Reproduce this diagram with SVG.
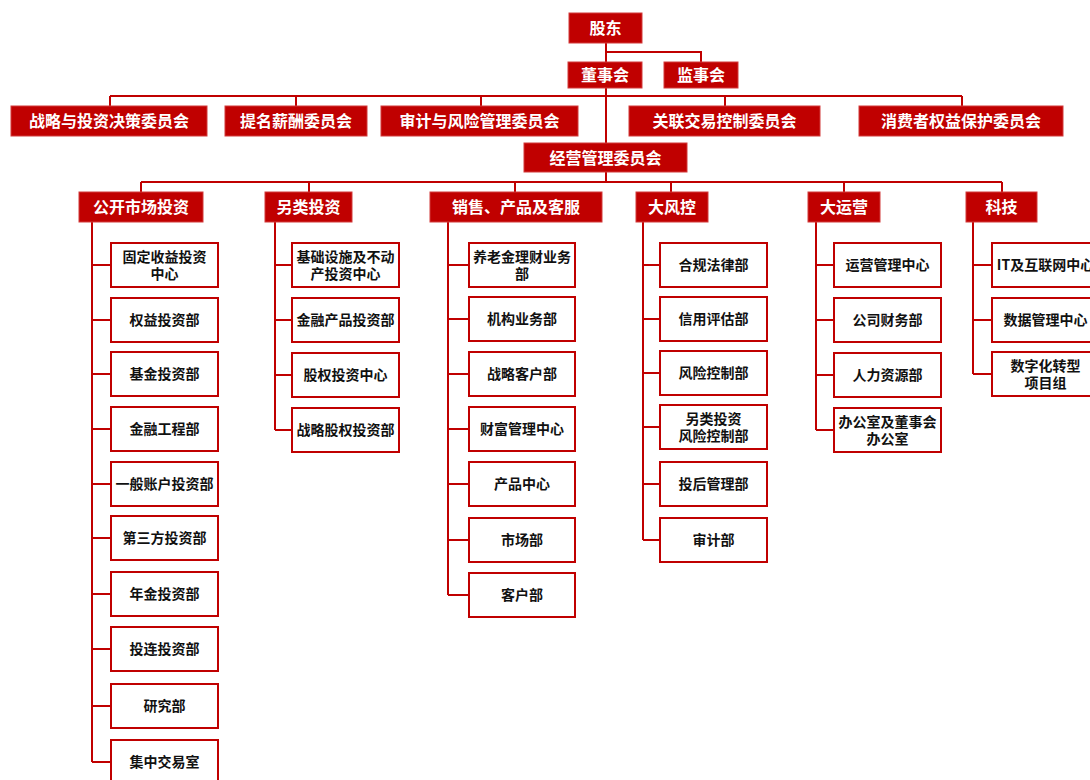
<svg xmlns="http://www.w3.org/2000/svg" width="1090" height="780" viewBox="0 0 1090 780">
<style>
.h rect{fill:#C00000;stroke:#D23A3A;stroke-width:1}
.h text{fill:#fff;font-family:"Noto Sans CJK SC","Liberation Sans",sans-serif;font-weight:700;font-size:16px;text-anchor:middle}
.c rect{fill:#fff;stroke:#C00000;stroke-width:2}
.c text{fill:#111;font-family:"Noto Sans CJK SC","Liberation Sans",sans-serif;font-weight:700;font-size:14px;text-anchor:middle}
#connectors path{fill:none;stroke:#C00000;stroke-width:2}
</style>
<rect width="1090" height="780" fill="#fff"/>
<g id="connectors">
<path d="M606 43V143M606 52H701V62"/>
<path d="M110 96H962M110 96V106M296 96V106M481 96V106M725 96V106M962 96V106"/>
<path d="M606 172V182M141 182H1002M141 182V192M309 182V192M515 182V192M671 182V192M844 182V192M1002 182V192"/>
<path d="M92 222V762M92 265H111M92 320H111M92 374H111M92 429H111M92 484H111M92 538H111M92 594H111M92 649H111M92 706H111M92 762H111"/>
<path d="M275 222V430M275 265H292M275 320H292M275 375H292M275 430H292"/>
<path d="M448 222V595M448 265H469M448 319H469M448 374H469M448 429H469M448 484H469M448 540H469M448 595H469"/>
<path d="M643 222V540M643 265H660M643 319H660M643 373H660M643 427H660M643 484H660M643 540H660"/>
<path d="M816 222V430M816 265H834M816 320H834M816 375H834M816 430H834"/>
<path d="M973 222V374M973 265H992M973 320H992M973 374H992"/>
</g>
<g id="n-gudong" class="h"><rect x="569" y="13" width="73" height="30"/><text x="605.5" y="34">股东</text></g>
<g id="n-dongshihui" class="h"><rect x="568" y="62" width="74" height="26"/><text x="605" y="81">董事会</text></g>
<g id="n-jianshihui" class="h"><rect x="664" y="62" width="74" height="26"/><text x="701" y="81">监事会</text></g>
<g id="n-zhanlue" class="h"><rect x="11" y="106" width="196" height="30"/><text x="109" y="127">战略与投资决策委员会</text></g>
<g id="n-timing" class="h"><rect x="225" y="106" width="142" height="30"/><text x="296" y="127">提名薪酬委员会</text></g>
<g id="n-shenji" class="h"><rect x="381" y="106" width="197" height="30"/><text x="479.5" y="127">审计与风险管理委员会</text></g>
<g id="n-guanlian" class="h"><rect x="629" y="106" width="191" height="30"/><text x="724.5" y="127">关联交易控制委员会</text></g>
<g id="n-xiaofei" class="h"><rect x="859" y="106" width="204" height="30"/><text x="961" y="127">消费者权益保护委员会</text></g>
<g id="n-jingying" class="h"><rect x="524" y="143" width="163" height="29"/><text x="605.5" y="163.5">经营管理委员会</text></g>
<g id="n-gongkai" class="h"><rect x="79" y="192" width="124" height="30"/><text x="141" y="213">公开市场投资</text></g>
<g id="n-linglei" class="h"><rect x="265" y="192" width="87" height="30"/><text x="308.5" y="213">另类投资</text></g>
<g id="n-xiaoshou" class="h"><rect x="430" y="192" width="172" height="30"/><text x="516" y="213">销售、产品及客服</text></g>
<g id="n-dafengkong" class="h"><rect x="636" y="192" width="72" height="30"/><text x="672" y="213">大风控</text></g>
<g id="n-dayunying" class="h"><rect x="808" y="192" width="72" height="30"/><text x="844" y="213">大运营</text></g>
<g id="n-keji" class="h"><rect x="966" y="192" width="71" height="30"/><text x="1001.5" y="213">科技</text></g>

<g id="n-a1" class="c"><rect x="111" y="243" width="107" height="44"/><text x="164.5" y="262">固定收益投资</text><text x="164.5" y="279">中心</text></g>
<g id="n-a2" class="c"><rect x="111" y="298" width="107" height="44"/><text x="164.5" y="325">权益投资部</text></g>
<g id="n-a3" class="c"><rect x="111" y="352" width="107" height="44"/><text x="164.5" y="379">基金投资部</text></g>
<g id="n-a4" class="c"><rect x="111" y="407" width="107" height="44"/><text x="164.5" y="434">金融工程部</text></g>
<g id="n-a5" class="c"><rect x="111" y="462" width="107" height="44"/><text x="164.5" y="489">一般账户投资部</text></g>
<g id="n-a6" class="c"><rect x="111" y="516" width="107" height="44"/><text x="164.5" y="543">第三方投资部</text></g>
<g id="n-a7" class="c"><rect x="111" y="572" width="107" height="44"/><text x="164.5" y="599">年金投资部</text></g>
<g id="n-a8" class="c"><rect x="111" y="627" width="107" height="44"/><text x="164.5" y="654">投连投资部</text></g>
<g id="n-a9" class="c"><rect x="111" y="684" width="107" height="44"/><text x="164.5" y="711">研究部</text></g>
<g id="n-a10" class="c"><rect x="111" y="740" width="107" height="44"/><text x="164.5" y="767">集中交易室</text></g>

<g id="n-b1" class="c"><rect x="292" y="243" width="107" height="44"/><text x="345.5" y="262">基础设施及不动</text><text x="345.5" y="279">产投资中心</text></g>
<g id="n-b2" class="c"><rect x="292" y="298" width="107" height="44"/><text x="345.5" y="325">金融产品投资部</text></g>
<g id="n-b3" class="c"><rect x="292" y="353" width="107" height="44"/><text x="345.5" y="380">股权投资中心</text></g>
<g id="n-b4" class="c"><rect x="292" y="408" width="107" height="44"/><text x="345.5" y="435">战略股权投资部</text></g>

<g id="n-c1" class="c"><rect x="469" y="243" width="106" height="44"/><text x="522" y="262">养老金理财业务</text><text x="522" y="279">部</text></g>
<g id="n-c2" class="c"><rect x="469" y="297" width="106" height="44"/><text x="522" y="324">机构业务部</text></g>
<g id="n-c3" class="c"><rect x="469" y="352" width="106" height="44"/><text x="522" y="379">战略客户部</text></g>
<g id="n-c4" class="c"><rect x="469" y="407" width="106" height="44"/><text x="522" y="434">财富管理中心</text></g>
<g id="n-c5" class="c"><rect x="469" y="462" width="106" height="44"/><text x="522" y="489">产品中心</text></g>
<g id="n-c6" class="c"><rect x="469" y="518" width="106" height="44"/><text x="522" y="545">市场部</text></g>
<g id="n-c7" class="c"><rect x="469" y="573" width="106" height="44"/><text x="522" y="600">客户部</text></g>

<g id="n-d1" class="c"><rect x="660" y="243" width="107" height="44"/><text x="713.5" y="270">合规法律部</text></g>
<g id="n-d2" class="c"><rect x="660" y="297" width="107" height="44"/><text x="713.5" y="324">信用评估部</text></g>
<g id="n-d3" class="c"><rect x="660" y="351" width="107" height="44"/><text x="713.5" y="378">风险控制部</text></g>
<g id="n-d4" class="c"><rect x="660" y="405" width="107" height="44"/><text x="713.5" y="424">另类投资</text><text x="713.5" y="441">风险控制部</text></g>
<g id="n-d5" class="c"><rect x="660" y="462" width="107" height="44"/><text x="713.5" y="489">投后管理部</text></g>
<g id="n-d6" class="c"><rect x="660" y="518" width="107" height="44"/><text x="713.5" y="545">审计部</text></g>

<g id="n-e1" class="c"><rect x="834" y="243" width="107" height="44"/><text x="887.5" y="270">运营管理中心</text></g>
<g id="n-e2" class="c"><rect x="834" y="298" width="107" height="44"/><text x="887.5" y="325">公司财务部</text></g>
<g id="n-e3" class="c"><rect x="834" y="353" width="107" height="44"/><text x="887.5" y="380">人力资源部</text></g>
<g id="n-e4" class="c"><rect x="834" y="408" width="107" height="44"/><text x="887.5" y="427">办公室及董事会</text><text x="887.5" y="444">办公室</text></g>

<g id="n-f1" class="c"><rect x="992" y="243" width="107" height="44"/><text x="1045.5" y="270">IT及互联网中心</text></g>
<g id="n-f2" class="c"><rect x="992" y="298" width="107" height="44"/><text x="1045.5" y="325">数据管理中心</text></g>
<g id="n-f3" class="c"><rect x="992" y="352" width="107" height="44"/><text x="1045.5" y="371">数字化转型</text><text x="1045.5" y="388">项目组</text></g>
</svg>
